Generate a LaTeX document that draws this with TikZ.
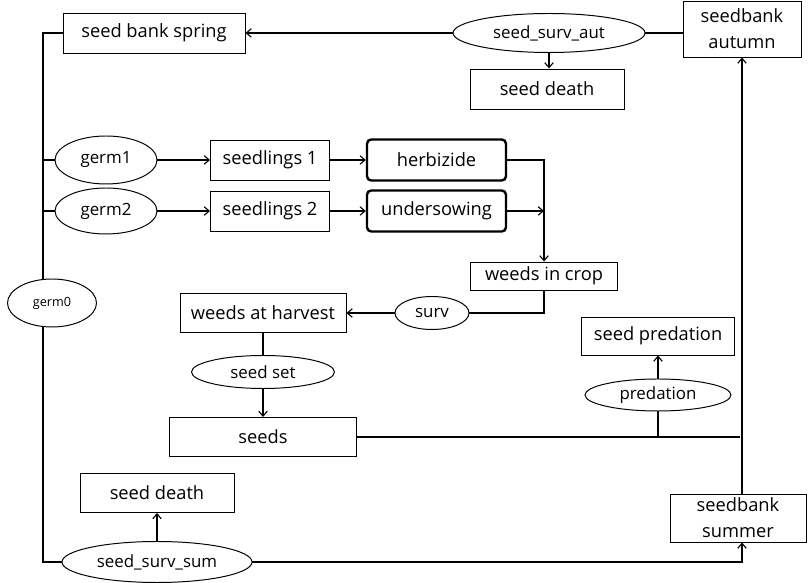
\documentclass[tikz,border=0pt]{standalone}
\usepackage{fontspec}
\setmainfont{Open Sans}
\usetikzlibrary{arrows.meta,shapes.geometric}

\tikzset{
  box/.style={draw,line width=.7pt,inner sep=0pt,align=center,
    font=\fontsize{13}{18.5}\selectfont},
  ctrl/.style={box,line width=1.7pt,rounded corners=3pt},
  rate/.style={draw,ellipse,line width=.7pt,inner sep=0pt,
    font=\fontsize{12}{14}\selectfont},
  arr/.style={-{Straight Barb[length=3.5pt,width=6pt]}},
}

\begin{document}
\begin{tikzpicture}[line width=.8pt]
\useasboundingbox (0,0) rectangle (20.2,14.575);
% seed bank, autumn to spring
\node[box,minimum width=4.55cm,minimum height=1cm] (spring) at (3.85,13.75) {seed bank spring};
\node[rate,minimum width=4.8cm,minimum height=.975cm] (survaut) at (13.725,13.75) {seed\_surv\_aut};
\node[box,minimum width=2.95cm,minimum height=1.4cm] (autumn) at (18.55,13.85) {seedbank\\autumn};
\node[box,minimum width=3.85cm,minimum height=1cm] (death1) at (13.675,12.35) {seed death};
% germination and crop
\node[rate,minimum width=2.55cm,minimum height=1.2cm] (germ1) at (2.65,10.575) {germ1};
\node[rate,minimum width=2.55cm,minimum height=1.15cm] (germ2) at (2.65,9.3) {germ2};
\node[box,minimum width=2.975cm,minimum height=1cm] (seedl1) at (6.75,10.575) {seedlings 1};
\node[box,minimum width=2.975cm,minimum height=1cm] (seedl2) at (6.75,9.3) {seedlings 2};
\node[ctrl,minimum width=3.475cm,minimum height=1.025cm] (herb) at (10.9125,10.575) {herbizide};
\node[ctrl,minimum width=3.475cm,minimum height=1.025cm] (under) at (10.9125,9.3) {undersowing};
\node[box,minimum width=3.675cm,minimum height=.7cm] (wcrop) at (13.6,7.675) {weeds in crop};
\node[rate,minimum width=1.85cm,minimum height=.825cm] (surv) at (10.8,6.75) {surv};
\node[box,minimum width=4.15cm,minimum height=.975cm] (harvest) at (6.575,6.75) {weeds at harvest};
\node[rate,minimum width=3.575cm,minimum height=.825cm] (seedset) at (6.575,5.275) {seed set};
\node[box,minimum width=4.675cm,minimum height=.975cm] (seeds) at (6.575,3.65) {seeds};
% predation
\node[box,minimum width=3.825cm,minimum height=.95cm] (seedpred) at (16.45,6.175) {seed predation};
\node[rate,minimum width=3.65cm,minimum height=.8cm] (predation) at (16.45,4.7) {predation};
% summer
\node[box,minimum width=3.85cm,minimum height=.975cm] (death2) at (3.925,2.25) {seed death};
\node[rate,minimum width=4.75cm,minimum height=1.025cm] (survsum) at (3.925,.525) {seed\_surv\_sum};
\node[box,minimum width=3.4cm,minimum height=1.2cm] (summer) at (18.45,1.625) {seedbank\\summer};
\coordinate (trunk) at (1.075,0);
\coordinate (seedsend) at (18.5,3.65);

\draw[arr] (survaut) -- (spring);
\draw (survaut.east) -- (survaut.east -| autumn.west);
\draw[arr] (survaut.south) -- (survaut.south |- death1.north);
\draw (spring.west) -| (survsum.west -| trunk) -- (survsum.west);
\draw (germ1.west -| trunk) -- (germ1.west);
\draw (germ2.west -| trunk) -- (germ2.west);
\draw[arr] (germ1) -- (seedl1);
\draw[arr] (germ2) -- (seedl2);
\draw[arr] (seedl1) -- (herb);
\draw[arr] (seedl2) -- (under);
\draw[arr] (herb.east) -| (wcrop.north);
\draw[arr] (under.east) -- (under.east -| wcrop.north);
\draw (wcrop.south) |- (surv.east);
\draw[arr] (surv) -- (harvest);
\draw (harvest) -- (seedset);
\draw[arr] (seedset) -- (seeds);
\draw (seeds.east) -- (seedsend);
\draw (predation.south |- seeds.east) -- (predation.south);
\draw[arr] (predation) -- (seedpred);
\draw[arr] (survsum.north) -- (survsum.north |- death2.south);
\draw[arr] (survsum.east) -| (summer.south -| autumn.south);
\draw[arr] (summer.north -| autumn.south) -- (autumn.south);
% germ0 sits on the trunk
\node[rate,fill=white,minimum width=2.225cm,minimum height=1.2cm,font=\fontsize{9}{11}\selectfont] (germ0) at (1.3,7) {germ0};
\end{tikzpicture}
\end{document}
